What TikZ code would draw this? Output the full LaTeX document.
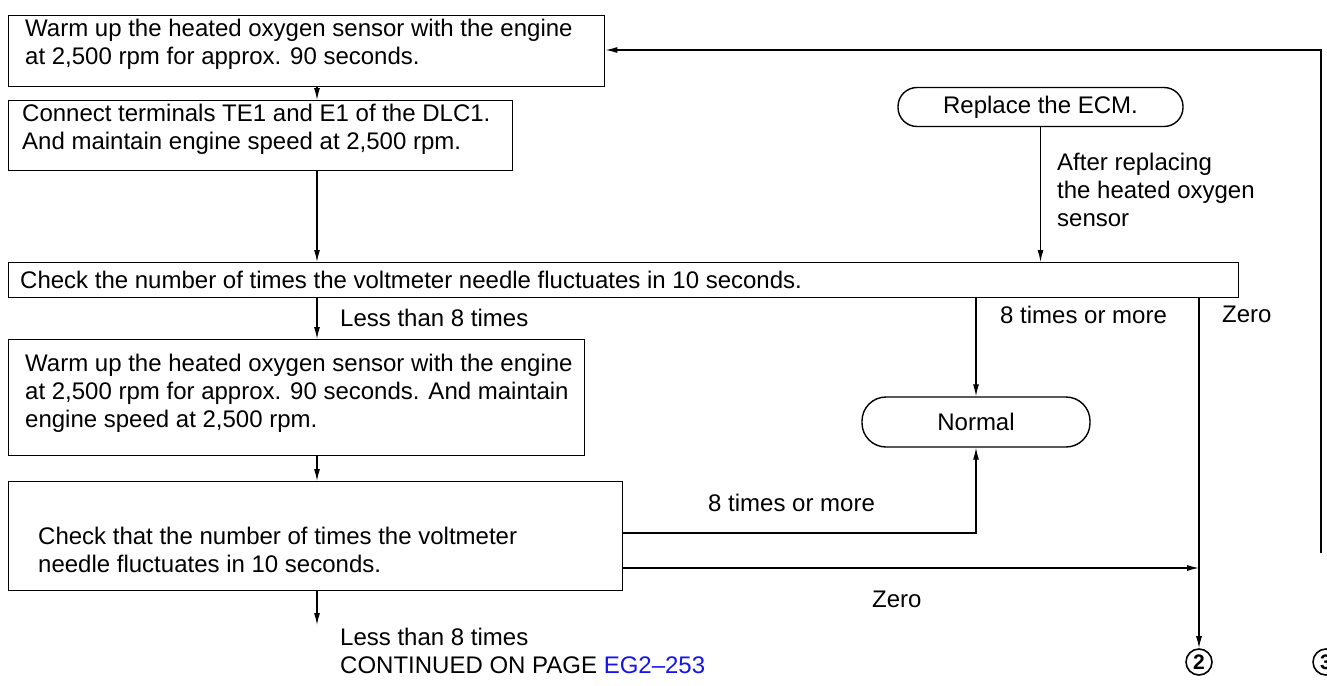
\documentclass[tikz,border=0pt]{standalone}
\usepackage{fontspec}
\setmainfont{Liberation Sans}
\usetikzlibrary{arrows.meta}
\newcommand\dfont{\fontsize{24}{28}\selectfont}
\definecolor{linkblue}{RGB}{20,20,240}
\begin{document}
\begin{tikzpicture}[x=1pt,y=-1pt,
  box/.style={draw, line width=1.4pt, anchor=north west, inner sep=0pt},
  term/.style={draw, line width=1.4pt, inner sep=0pt, font=\dfont},
  txt/.style={anchor=north west, inner sep=0pt, align=left, font=\dfont},
  conn/.style={line width=1.2pt},
  arr/.style={conn, -{Latex[length=12pt,width=6pt]}},
  circ/.style={circle, draw, line width=1.6pt, minimum size=26pt, inner sep=0pt, font=\bfseries\fontsize{21}{21}\selectfont}
]
\useasboundingbox (0,0) rectangle (1327,685);
\clip (0,0) rectangle (1327,685);

% boxes
\node[box, minimum width=596pt, minimum height=71pt] (b1) at (8,15) {};
\node[txt] (t1) at (25,18.5) {Warm up the heated oxygen sensor with the engine\\at 2,500 rpm for approx. 90 seconds.};

\node[box, minimum width=504pt, minimum height=70pt] (b2) at (8,100) {};
\node[txt] (t2) at (22,103.5) {Connect terminals TE1 and E1 of the DLC1.\\And maintain engine speed at 2,500 rpm.};

\node[box, minimum width=1230pt, minimum height=35pt] (b3) at (8,262) {};
\node[txt] (t3) at (20,270.5) {Check the number of times the voltmeter needle fluctuates in 10 seconds.};

\node[box, minimum width=576pt, minimum height=116pt] (b4) at (8,339) {};
\node[txt] (t4) at (25,353.5) {Warm up the heated oxygen sensor with the engine\\at 2,500 rpm for approx. 90 seconds. And maintain\\engine speed at 2,500 rpm.};

\node[box, minimum width=614pt, minimum height=109pt] (b5) at (8,481) {};
\node[txt] (t5) at (38,526.5) {Check that the number of times the voltmeter\\needle fluctuates in 10 seconds.};

% terminals
\node[term, rounded corners=19pt, minimum width=285pt, minimum height=39pt] (ecm) at (1040.5,107) {Replace the ECM.};
\node[term, rounded corners=24pt, minimum width=228pt, minimum height=50pt] (nrm) at (976,422) {Normal};

\node[circ] (c2) at (1199,662) {2};
\node[circ] (c3) at (1326,662) {3};

% labels
\node[txt] (lafter) at (1057,152.5) {After replacing\\the heated oxygen\\sensor};
\node[txt] (lless1) at (340,308.5) {Less than 8 times};
\node[txt] (lmore1) at (1000,305.5) {8 times or more};
\node[txt] (lzero1) at (1222,305.5) {Zero};
\node[txt] (lmore2) at (708,493.5) {8 times or more};
\node[txt] (lzero2) at (872,590.5) {Zero};
\node[txt] (lless2) at (340,627.5) {Less than 8 times\\CONTINUED ON PAGE \textcolor{linkblue}{EG2--253}};

% coordinates
\coordinate (cx) at (317,0);
\coordinate (y1) at (0,533);
\coordinate (y2) at (0,568);
\coordinate (cend) at (317,625);
\coordinate (rb) at (1321,553);
\coordinate (rt) at (1321,50);

% connectors
\draw[arr] (b1.south -| cx) -- (b2.north -| cx);
\draw[arr] (b2.south -| cx) -- (b3.north -| cx);
\draw[arr] (ecm.south) -- (b3.north -| ecm.south);
\draw[arr] (b3.south -| cx) -- (b4.north -| cx);
\draw[arr] (b3.south -| nrm.north) -- (nrm.north);
\draw[arr] (b3.south -| c2.north) -- (c2.north);
\draw[arr] (b4.south -| cx) -- (b5.north -| cx);
\draw[arr] (y1 -| b5.east) -- (y1 -| nrm.south) -- (nrm.south);
\draw[arr] (y2 -| b5.east) -- (y2 -| c2.north);
\draw[arr] (b5.south -| cx) -- (cend);
\draw[arr] (rb) -- (rt) -- (b1.east |- rt);
\end{tikzpicture}
\end{document}
